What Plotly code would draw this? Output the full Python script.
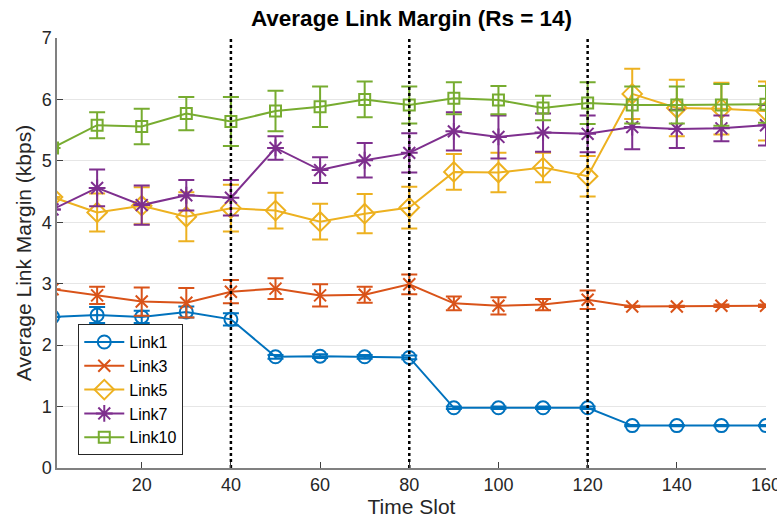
import plotly.graph_objects as go

time_slots = [0, 10, 20, 30, 40, 50, 60, 70, 80, 90, 100, 110, 120, 130, 140, 150, 160]

link1 = [2.46, 2.49, 2.46, 2.54, 2.42, 1.81, 1.82, 1.81, 1.80, 0.98, 0.98, 0.98, 0.98, 0.69, 0.69, 0.69, 0.69]
link1_err = [0.0, 0.13, 0.10, 0.09, 0.10, 0.03, 0.03, 0.03, 0.03, 0.02, 0.02, 0.02, 0.02, 0.01, 0.01, 0.01, 0.01]

link3 = [2.91, 2.81, 2.71, 2.69, 2.87, 2.92, 2.81, 2.82, 2.99, 2.68, 2.64, 2.66, 2.74, 2.63, 2.63, 2.64, 2.64]
link3_err = [0.0, 0.14, 0.23, 0.24, 0.19, 0.17, 0.18, 0.13, 0.16, 0.11, 0.14, 0.09, 0.15, 0.01, 0.01, 0.02, 0.02]

link5 = [4.41, 4.16, 4.27, 4.09, 4.23, 4.19, 4.01, 4.14, 4.24, 4.82, 4.81, 4.89, 4.75, 6.09, 5.86, 5.85, 5.81]
link5_err = [0.0, 0.31, 0.30, 0.40, 0.38, 0.29, 0.29, 0.32, 0.34, 0.29, 0.32, 0.24, 0.33, 0.41, 0.46, 0.42, 0.48]

link7 = [4.21, 4.56, 4.28, 4.44, 4.40, 5.21, 4.85, 5.01, 5.13, 5.48, 5.39, 5.46, 5.44, 5.55, 5.52, 5.53, 5.58]
link7_err = [0.0, 0.30, 0.32, 0.25, 0.29, 0.19, 0.21, 0.28, 0.32, 0.31, 0.35, 0.31, 0.30, 0.36, 0.31, 0.21, 0.33]

link10 = [5.21, 5.58, 5.56, 5.77, 5.64, 5.81, 5.88, 6.00, 5.91, 6.02, 5.99, 5.86, 5.94, 5.91, 5.91, 5.91, 5.92]
link10_err = [0.0, 0.21, 0.29, 0.27, 0.40, 0.33, 0.33, 0.29, 0.30, 0.26, 0.23, 0.20, 0.34, 0.30, 0.30, 0.34, 0.30]

series_names = ["Link1", "Link3", "Link5", "Link7", "Link10"]
series_vals = [link1, link3, link5, link7, link10]
series_errs = [link1_err, link3_err, link5_err, link7_err, link10_err]
colors = ["#0072BD", "#D95319", "#EDB120", "#7E2F8E", "#77AC30"]
symbols = ["circle-open", "x-thin-open", "diamond-open", "asterisk-open", "square-open"]
sizes = [13, 12, 15, 14, 11]

boundaries = [40, 80, 120]
x_ticks = [20, 40, 60, 80, 100, 120, 140, 160]
y_ticks = [0, 1, 2, 3, 4, 5, 6, 7]

fig = go.Figure()
for name, vals, errs, c, s, sz in zip(series_names, series_vals, series_errs, colors, symbols, sizes):
    fig.add_trace(go.Scatter(
        x=time_slots, y=vals, name=name, mode="lines+markers",
        line=dict(color=c, width=2),
        marker=dict(symbol=s, size=sz, color=c, line=dict(color=c, width=2)),
        error_y=dict(type="data", array=errs, visible=True, color=c, thickness=2, width=8),
        cliponaxis=True,
    ))

for b in boundaries:
    fig.add_trace(go.Scatter(
        x=[b, b], y=[0, 7], mode="lines", showlegend=False, hoverinfo="skip",
        line=dict(color="black", width=2.5, dash="dot"),
    ))

fig.update_layout(
    width=777, height=525,
    margin=dict(l=57, r=11, t=38, b=57),
    paper_bgcolor="white", plot_bgcolor="white",
    font=dict(family="Liberation Sans, Arial, sans-serif", color="#262626", size=18),
    title=dict(text="<b>Average Link Margin (Rs = 14)</b>", x=0.5, xref="paper", xanchor="center",
               y=0.965, yanchor="middle", font=dict(size=22.5, color="black")),
    xaxis=dict(range=[1, 160], tickvals=x_ticks, ticks="inside", ticklen=6,
               tickcolor="#404040", showline=True, linecolor="#808080", linewidth=1.5,
               showgrid=False, zeroline=False, ticklabeloverflow="allow", automargin=False,
               title=dict(text="Time Slot", font=dict(size=21), standoff=2),
               tickfont=dict(size=18)),
    yaxis=dict(range=[0, 7], tickvals=y_ticks, ticks="inside", ticklen=6,
               tickcolor="#404040", showline=True, linecolor="#808080", linewidth=1.5,
               showgrid=True, gridcolor="#E6E6E6", gridwidth=1, zeroline=False, automargin=False,
               title=dict(text="Average Link Margin (kbps)", font=dict(size=21), standoff=4),
               tickfont=dict(size=18)),
    legend=dict(x=0.03, y=0.03, xanchor="left", yanchor="bottom",
                bgcolor="white", bordercolor="#262626", borderwidth=1,
                font=dict(size=16, color="black"), tracegroupgap=0, itemwidth=40),
    showlegend=True,
)

fig.write_html("out.html")
